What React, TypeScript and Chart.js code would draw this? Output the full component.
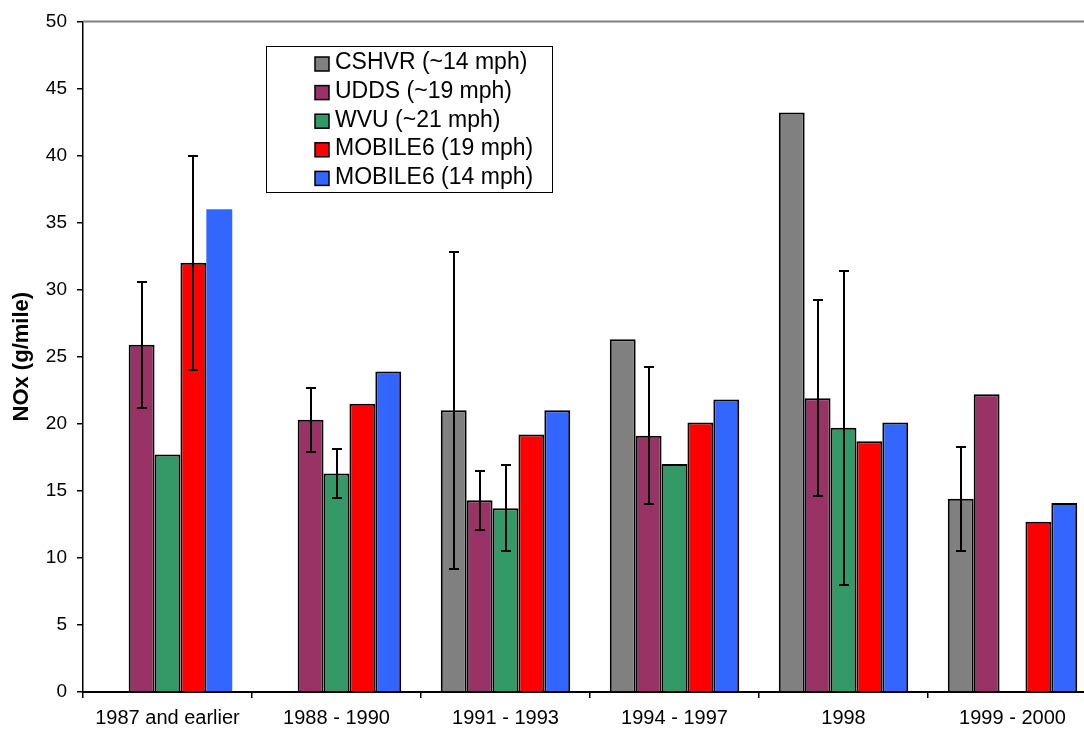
import React, { useEffect, useRef } from "react";
import { Chart, registerables } from "chart.js";

Chart.register(...registerables);

const categories = ["1987 and earlier", "1988 - 1990", "1991 - 1993", "1994 - 1997", "1998", "1999 - 2000"];

const seriesNames = ["CSHVR (~14 mph)", "UDDS (~19 mph)", "WVU (~21 mph)", "MOBILE6 (19 mph)", "MOBILE6 (14 mph)"];
const seriesColors = ["#808080", "#993366", "#339966", "#FF0000", "#3366FF"];

const cshvr = [null, null, 21.0, 26.3, 43.2, 14.4];
const udds = [25.9, 20.3, 14.3, 19.1, 21.9, 22.2];
const wvu = [17.7, 16.3, 13.7, 17.0, 19.7, null];
const mobile19 = [32.0, 21.5, 19.2, 20.1, 18.7, 12.7];
const mobile14 = [36.0, 23.9, 21.0, 21.8, 20.1, 14.1];

// error bar ranges (low / high)
const cshvrLow = [null, null, 9.2, null, null, 10.5];
const cshvrHigh = [null, null, 32.8, null, null, 18.3];
const uddsLow = [21.2, 17.9, 12.1, 14.0, 14.6, null];
const uddsHigh = [30.6, 22.7, 16.5, 24.2, 29.2, null];
const wvuLow = [null, 14.5, 10.5, null, 8.0, null];
const wvuHigh = [null, 18.1, 16.9, null, 31.4, null];
const mobile19Low = [24.0, null, null, null, null, null];
const mobile19High = [40.0, null, null, null, null, null];
const mobile14Low = [null, null, null, null, null, null];
const mobile14High = [null, null, null, null, null, null];

const yTicks = [0, 5, 10, 15, 20, 25, 30, 35, 40, 45, 50];
const yTitle = "NOx (g/mile)";

const FONT = "'Liberation Sans', Arial, sans-serif";

const values = [cshvr, udds, wvu, mobile19, mobile14];
const lows = [cshvrLow, uddsLow, wvuLow, mobile19Low, mobile14Low];
const highs = [cshvrHigh, uddsHigh, wvuHigh, mobile19High, mobile14High];

const errorBarPlugin = {
  id: "errorBars",
  afterDatasetsDraw(chart: any) {
    const ctx = chart.ctx;
    const y = chart.scales.y;
    ctx.save();
    ctx.strokeStyle = "#000";
    ctx.lineWidth = 2;
    lows.forEach((lowArr, di) => {
      const meta = chart.getDatasetMeta(di);
      lowArr.forEach((lo, j) => {
        const hi = highs[di][j];
        if (lo == null || hi == null) return;
        const el = meta.data[j];
        if (!el) return;
        const x = Math.round(el.x);
        const yl = Math.round(y.getPixelForValue(lo));
        const yh = Math.round(y.getPixelForValue(hi));
        ctx.beginPath();
        ctx.moveTo(x, yl);
        ctx.lineTo(x, yh);
        ctx.moveTo(x - 5, yl);
        ctx.lineTo(x + 5, yl);
        ctx.moveTo(x - 5, yh);
        ctx.lineTo(x + 5, yh);
        ctx.stroke();
      });
    });
    ctx.restore();
  },
};

const decorPlugin = {
  id: "decor",
  beforeDatasetsDraw(chart: any) {
    const ctx = chart.ctx;
    const a = chart.chartArea;
    ctx.save();
    ctx.strokeStyle = "#808080";
    ctx.lineWidth = 2;
    ctx.beginPath();
    ctx.moveTo(a.left, a.top);
    ctx.lineTo(a.right, a.top);
    ctx.stroke();
    ctx.restore();
  },
  afterDraw(chart: any) {
    const ctx = chart.ctx;
    const a = chart.chartArea;
    ctx.save();
    // y axis title
    ctx.translate(22, (a.top + a.bottom) / 2);
    ctx.rotate(-Math.PI / 2);
    ctx.fillStyle = "#000";
    ctx.font = `bold 22px ${FONT}`;
    ctx.textAlign = "center";
    ctx.textBaseline = "middle";
    ctx.fillText(yTitle, 0, 0);
    ctx.restore();

    // legend
    ctx.save();
    const bx = 266, by = 46, bw = 286, bh = 146;
    ctx.fillStyle = "#fff";
    ctx.fillRect(bx, by, bw, bh);
    ctx.strokeStyle = "#000";
    ctx.lineWidth = 1;
    ctx.strokeRect(bx + 0.5, by + 0.5, bw, bh);
    ctx.font = `23px ${FONT}`;
    ctx.textBaseline = "middle";
    ctx.textAlign = "left";
    seriesNames.forEach((name, i) => {
      const cy = 63 + i * 28.6;
      ctx.fillStyle = seriesColors[i];
      ctx.fillRect(315, cy - 6, 14, 14);
      ctx.strokeStyle = "#000";
      ctx.lineWidth = 1.5;
      ctx.strokeRect(315, cy - 6, 14, 14);
      ctx.fillStyle = "#000";
      ctx.fillText(name, 335, cy);
    });
    ctx.restore();
  },
};

export default function App() {
  const ref = useRef<HTMLCanvasElement>(null);
  useEffect(() => {
    if (!ref.current) return;
    const datasets = values.map((v, i) => ({
      label: seriesNames[i],
      data: v,
      backgroundColor: seriesColors[i],
      borderColor: "#000",
      borderWidth: i === 4 ? v.map((_, j) => (j === 0 ? 0 : 2)) : 2,
      borderSkipped: "bottom" as const,
      barPercentage: 1,
      categoryPercentage: 0.766,
    }));
    const chart = new Chart(ref.current, {
      type: "bar",
      data: { labels: categories, datasets },
      options: {
        animation: false,
        responsive: false,
        maintainAspectRatio: false,
        layout: { padding: { left: 0, top: 20, right: 23, bottom: 0 } },
        plugins: {
          legend: { display: false },
          tooltip: { enabled: false },
        },
        scales: {
          x: {
            offset: true,
            grid: {
              offset: true,
              drawOnChartArea: false,
              drawTicks: true,
              tickLength: 6,
              color: "#000",
              lineWidth: 1.5,
            },
            border: { display: true, color: "#000", width: 2 },
            ticks: {
              color: "#000",
              font: { family: FONT, size: 20 },
              padding: 8,
              autoSkip: false,
              maxRotation: 0,
              minRotation: 0,
            },
            afterFit(scale: any) {
              scale.height = 38;
            },
          },
          y: {
            min: 0,
            max: 50,
            afterBuildTicks(scale: any) {
              scale.ticks = yTicks.map((v) => ({ value: v }));
            },
            grid: {
              drawOnChartArea: false,
              drawTicks: true,
              tickLength: 6,
              color: "#000",
              lineWidth: 1.5,
            },
            border: { display: true, color: "#000", width: 1.5 },
            ticks: {
              color: "#000",
              font: { family: FONT, size: 19 },
              padding: 10,
            },
            afterFit(scale: any) {
              scale.width = 83;
            },
          },
        },
      },
      plugins: [decorPlugin, errorBarPlugin],
    });
    return () => chart.destroy();
  }, []);
  return (
    <div
      style={{
        position: "fixed",
        left: 0,
        top: 0,
        width: 1084,
        height: 730,
        overflow: "hidden",
        background: "#fff",
      }}
    >
      <canvas ref={ref} width={1120} height={730} style={{ display: "block" }} />
    </div>
  );
}
